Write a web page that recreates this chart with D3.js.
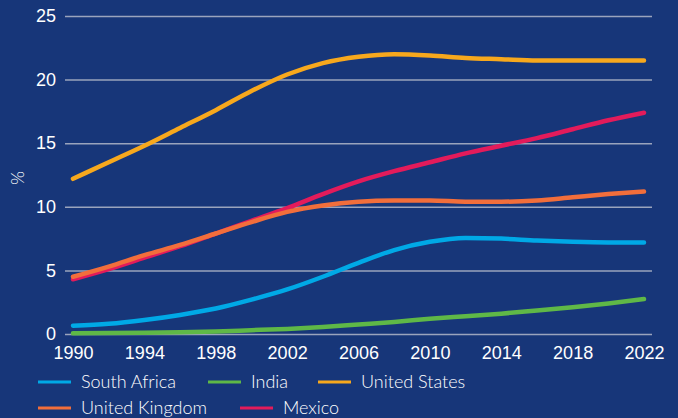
<!DOCTYPE html>
<html>
<head>
  <script src="https://d3js.org/d3.v7.min.js"></script>
  <style>
    body {
  margin: 0;
  background-color: #173679;
}

svg {
  display: block;
  font-family: 'Lato', sans-serif;
  font-weight: 300;
}

.grid line {
  stroke: #9aa4bd;
  stroke-width: 1.5px;
}

.tick text {
  fill: #ffffff;
  font-size: 18px;
}

.series {
  fill: none;
  stroke-width: 4.5px;
  stroke-linecap: round;
}

.legend text {
  fill: #ffffff;
  font-size: 18px;
}
  </style>
</head>
<body>

<script>
// Years along the x axis, every two years.
const years = [1990, 1992, 1994, 1996, 1998, 2000, 2002, 2004, 2006, 2008, 2010, 2012, 2014, 2016, 2018, 2020, 2022];

// Values (%).
const southAfrica = [0.65, 0.8, 1.1, 1.5, 2.0, 2.7, 3.5, 4.5, 5.6, 6.6, 7.25, 7.55, 7.5, 7.35, 7.25, 7.2, 7.2];
const india = [0.05, 0.07, 0.1, 0.14, 0.2, 0.3, 0.4, 0.55, 0.75, 0.95, 1.2, 1.4, 1.6, 1.85, 2.1, 2.4, 2.75];
const unitedStates = [12.2, 13.5, 14.8, 16.2, 17.6, 19.1, 20.4, 21.3, 21.8, 22.0, 21.9, 21.7, 21.6, 21.5, 21.5, 21.5, 21.5];
const unitedKingdom = [4.5, 5.3, 6.2, 7.0, 7.9, 8.8, 9.6, 10.1, 10.4, 10.5, 10.5, 10.4, 10.4, 10.5, 10.75, 11.0, 11.2];
const mexico = [4.3, 5.1, 6.0, 6.9, 7.9, 8.9, 9.9, 11.0, 12.0, 12.8, 13.5, 14.2, 14.8, 15.4, 16.1, 16.8, 17.4];

const seriesNames = ["South Africa", "India", "United States", "United Kingdom", "Mexico"];
const seriesColors = ["#00a9e6", "#5fb847", "#f7a81d", "#f26e3b", "#e31b5b"];
const seriesValues = [southAfrica, india, unitedStates, unitedKingdom, mexico];

const xTicks = [1990, 1994, 1998, 2002, 2006, 2010, 2014, 2018, 2022];
const yTicks = [0, 5, 10, 15, 20, 25];

const width = 678;
const height = 418;

const x = d3.scaleLinear().domain([1990, 2022]).range([73, 644]);
const y = d3.scaleLinear().domain([0, 25]).range([334, 16]);

const svg = d3.select("body")
  .append("svg")
  .attr("width", width)
  .attr("height", height);

// Gridlines and y labels
const yAxis = svg.append("g")
  .attr("class", "grid")
  .attr("transform", "translate(65,0)")
  .call(d3.axisLeft(y).tickValues(yTicks).tickSize(0).tickPadding(9));
yAxis.select(".domain").remove();
yAxis.selectAll(".tick line").attr("x2", 652 - 65);

// x labels
const xAxis = svg.append("g")
  .attr("transform", "translate(0,334)")
  .call(d3.axisBottom(x).tickValues(xTicks).tickFormat(d3.format("d")).tickSize(0).tickPadding(12));
xAxis.select(".domain").remove();

// y axis title
svg.append("text")
  .attr("transform", "translate(24,178) rotate(-90)")
  .attr("text-anchor", "middle")
  .attr("fill", "#ffffff")
  .attr("font-size", "18px")
  .text("%");

const line = d3.line()
  .x((d, i) => x(years[i]))
  .y(d => y(d))
  .curve(d3.curveMonotoneX);

// Draw order so that UK sits over Mexico at the start
const drawOrder = [1, 0, 4, 3, 2];
drawOrder.forEach(i => {
  svg.append("path")
    .attr("class", "series")
    .attr("stroke", seriesColors[i])
    .attr("d", line(seriesValues[i]));
});

// Legend
const legendPos = [
  [38, 382], [208, 382], [318, 382],
  [38, 408], [240, 408]
];
const legend = svg.append("g").attr("class", "legend");
seriesNames.forEach((name, i) => {
  const [lx, ly] = legendPos[i];
  legend.append("line")
    .attr("x1", lx).attr("x2", lx + 33)
    .attr("y1", ly).attr("y2", ly)
    .attr("stroke", seriesColors[i])
    .attr("stroke-width", 3);
  legend.append("text")
    .attr("x", lx + 43)
    .attr("y", ly)
    .attr("dy", "0.35em")
    .text(name);
});
</script>
</body>
</html>
